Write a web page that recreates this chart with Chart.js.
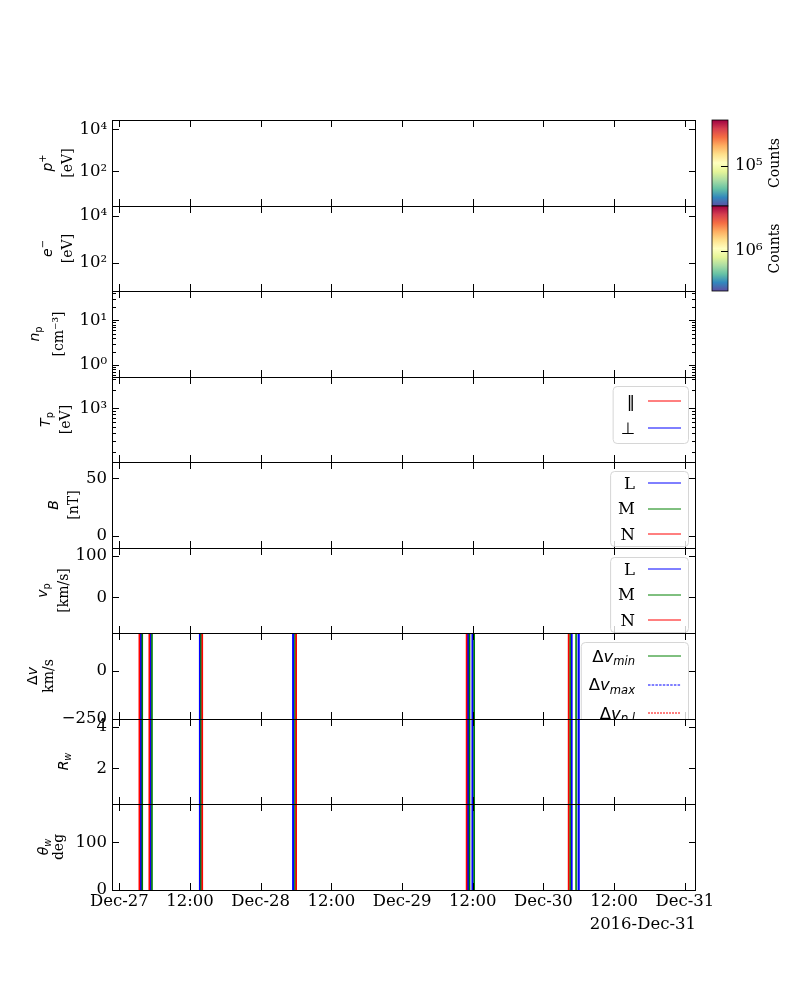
<!DOCTYPE html>
<html>
<head>
<meta charset="utf-8">
<title>Dec 2016 overview</title>
<script src="https://cdn.jsdelivr.net/npm/chart.js@4.4.0/dist/chart.umd.min.js"></script>
<style>
  html, body { margin: 0; padding: 0; background: #fff; }
  #page { position: relative; width: 800px; height: 1000px; overflow: hidden; }
  #page canvas { position: absolute; left: 0; }
</style>
</head>
<body>
<div id="page"></div>
<script>
// time axis, hours since 2016-12-27 00:00
const timeRange = [-1.24, 97.9];
const timeTicks = [0, 12, 24, 36, 48, 60, 72, 84, 96];
const timeTickLabels = ['Dec-27', '12:00', 'Dec-28', '12:00', 'Dec-29', '12:00', 'Dec-30', '12:00', 'Dec-31'];
const timeAxisTitle = '2016-Dec-31';

// crossing markers in the three lower panels (hours)
const redCrossings = [3.40, 5.09, 14.09, 30.03, 58.95, 76.27];
const greenCrossings = [3.90, 5.55, 13.87, 29.83, 59.46, 60.25, 76.52, 77.54];
const blueCrossings = [3.68, 5.31, 13.70, 29.52, 59.20, 59.97, 76.77, 77.98];

// y limits per panel
const protonRange = [2.2, 27700];
const electronRange = [6.3, 26600];
const densityRange = [0.54, 45];
const tempRange = [136, 3200];
const bRange = [-10.4, 64.1];
const vpRange = [-86.4, 119.4];
const dvRange = [-252, 200];
const rwRange = [0.28, 4.37];
const thetaRange = [0, 180.3];

// y ticks per panel
const protonTicks = [1e2, 1e4];
const electronTicks = [1e2, 1e4];
const densityTicks = [0.6, 0.7, 0.8, 0.9, 1, 2, 3, 4, 5, 6, 7, 8, 9, 10, 20, 30, 40];
const tempTicks = [200, 300, 400, 500, 600, 700, 800, 900, 1000, 2000, 3000];
const bTicks = [0, 50];
const vpTicks = [0, 100];
const dvTicks = [-250, 0];
const rwTicks = [2, 4];
const thetaTicks = [0, 100];

// colorbars of the two spectrograms
const protonCountsRange = [4.0e4, 2.8e5];
const protonCountsTicks = [1e5];
const electronCountsRange = [4.0e5, 2.8e6];
const electronCountsTicks = [1e6];

const spectral = ['#5e4fa2', '#3288bd', '#66c2a5', '#abdda4', '#e6f598', '#ffffbf',
  '#fee08b', '#fdae61', '#f46d43', '#d53e4f', '#9e0142'];

Chart.defaults.font.family = 'DejaVu Serif';
const tickFont = { family: 'DejaVu Serif', size: 16.5 };

function sup(str) {
  const map = { '0': '⁰', '1': '¹', '2': '²', '3': '³', '4': '⁴', '5': '⁵', '6': '⁶', '7': '⁷', '8': '⁸', '9': '⁹', '-': '⁻' };
  return String(str).split('').map(c => map[c] || c).join('');
}

function logLabel(value) {
  const e = Math.log10(value);
  if (Math.abs(e - Math.round(e)) < 1e-9) {
    return '10' + sup(Math.round(e));
  }
  return '';
}

function linearLabel(value) {
  return value < 0 ? '−' + Math.abs(value) : String(value);
}

// rich text: parts are [text, font, shift] with shift 1 = superscript, -1 = subscript
function fontFor(part, size) {
  const s = part[2] ? size * 0.7 : size;
  const style = part[1] === 'sansI' ? 'italic ' : '';
  const fam = part[1] === 'serif' ? '"DejaVu Serif"' : '"DejaVu Sans"';
  return style + s + 'px ' + fam;
}

function richWidth(ctx, parts, size) {
  let w = 0;
  for (const p of parts) {
    ctx.font = fontFor(p, size);
    w += ctx.measureText(p[0]).width;
  }
  return w;
}

function drawRich(ctx, parts, x, y, size, align) {
  const w = richWidth(ctx, parts, size);
  let cx = align === 'center' ? x - w / 2 : (align === 'right' ? x - w : x);
  const base = y + size * 0.36;
  ctx.textAlign = 'left';
  ctx.textBaseline = 'alphabetic';
  for (const p of parts) {
    ctx.font = fontFor(p, size);
    let dy = 0;
    if (p[2] === 1) dy = -size * 0.42;
    if (p[2] === -1) dy = size * 0.2;
    ctx.fillText(p[0], cx, base + dy);
    cx += ctx.measureText(p[0]).width;
  }
}

function crossingData(hours, range) {
  const pts = [];
  hours.forEach(h => {
    pts.push({ x: h, y: range[0] }, { x: h, y: range[1] }, { x: h, y: null });
  });
  return pts;
}

function crossingSets(range) {
  return [
    { data: crossingData(redCrossings, range), borderColor: '#ff0000', borderWidth: 1.6 },
    { data: crossingData(greenCrossings, range), borderColor: '#008000', borderWidth: 1.6 },
    { data: crossingData(blueCrossings, range), borderColor: '#0000ff', borderWidth: 2.2 },
  ];
}

function legendSet(parts, color, dash) {
  return { label: parts.map(p => p[0]).join(''), legendParts: parts, data: [],
    borderColor: color, borderWidth: 1, borderDash: dash || [] };
}

const panels = [
  { top: 120, bottom: 206, type: 'logarithmic', range: protonRange, ticks: protonTicks,
    ylabel: [[['p', 'sansI'], ['+', 'sans', 1]], [['[eV]', 'serif']]], labelX: [47, 67],
    colorbar: { range: protonCountsRange, ticks: protonCountsTicks }, datasets: [] },
  { top: 206, bottom: 291, type: 'logarithmic', range: electronRange, ticks: electronTicks,
    ylabel: [[['e', 'sansI'], ['−', 'sans', 1]], [['[eV]', 'serif']]], labelX: [47, 67],
    colorbar: { range: electronCountsRange, ticks: electronCountsTicks }, datasets: [] },
  { top: 291, bottom: 377, type: 'logarithmic', range: densityRange, ticks: densityTicks,
    ylabel: [[['n', 'sansI'], ['p', 'sans', -1]], [['[cm⁻³]', 'serif']]], labelX: [34, 58],
    datasets: [] },
  { top: 377, bottom: 462, type: 'logarithmic', range: tempRange, ticks: tempTicks,
    ylabel: [[['T', 'sansI'], ['p', 'sans', -1]], [['[eV]', 'serif']]], labelX: [45, 65],
    legend: { rowGap: 27, pad: 15 },
    datasets: [legendSet([['‖', 'sans']], '#ff0000'), legendSet([['⊥', 'sans']], '#0000ff')] },
  { top: 462, bottom: 548, type: 'linear', range: bRange, ticks: bTicks,
    ylabel: [[['B', 'sansI']], [['[nT]', 'serif']]], labelX: [53, 73],
    legend: { rowGap: 25.5, pad: 12 },
    datasets: [legendSet([['L', 'serif']], '#0000ff'), legendSet([['M', 'serif']], '#008000'),
      legendSet([['N', 'serif']], '#ff0000')] },
  { top: 548, bottom: 633, type: 'linear', range: vpRange, ticks: vpTicks,
    ylabel: [[['v', 'sansI'], ['p', 'sans', -1]], [['[km/s]', 'serif']]], labelX: [42, 63],
    legend: { rowGap: 25.5, pad: 12 },
    datasets: [legendSet([['L', 'serif']], '#0000ff'), legendSet([['M', 'serif']], '#008000'),
      legendSet([['N', 'serif']], '#ff0000')] },
  { top: 633, bottom: 719, type: 'linear', range: dvRange, ticks: dvTicks,
    ylabel: [[['Δ', 'sans'], ['v', 'sansI']], [['km/s', 'serif']]], labelX: [32, 48],
    legend: { rowGap: 28.5, pad: 14 },
    datasets: crossingSets(dvRange).concat([
      legendSet([['Δ', 'sans'], ['v', 'sansI'], ['min', 'sansI', -1]], '#008000'),
      legendSet([['Δ', 'sans'], ['v', 'sansI'], ['max', 'sansI', -1]], '#0000ff', [2.5, 1.2]),
      legendSet([['Δ', 'sans'], ['v', 'sansI'], ['p,l', 'sansI', -1]], '#ff0000', [2, 1])]) },
  { top: 719, bottom: 804, type: 'linear', range: rwRange, ticks: rwTicks,
    ylabel: [[['R', 'sansI'], ['w', 'sansI', -1]]], labelX: [63],
    datasets: crossingSets(rwRange) },
  { top: 804, bottom: 890, type: 'linear', range: thetaRange, ticks: thetaTicks,
    ylabel: [[['θ', 'sansI'], ['w', 'sansI', -1]], [['deg', 'serif']]], labelX: [43, 58],
    datasets: crossingSets(thetaRange) },
];

function drawLegend(ctx, area, items, spec) {
  const size = 16.5;
  const textW = Math.max(...items.map(it => richWidth(ctx, it.legendParts, size)));
  const lineLen = 33, padL = 8, gap = 13, padR = 7;
  const boxW = padL + textW + gap + lineLen + padR;
  const boxH = spec.pad * 2 + spec.rowGap * (items.length - 1);
  const right = area.right - 8;
  const top = area.top + 9;
  const left = right - boxW;
  ctx.save();
  ctx.beginPath();
  ctx.rect(area.left, area.top, area.right - area.left, area.bottom - area.top);
  ctx.clip();
  ctx.beginPath();
  ctx.roundRect(left + 0.5, top + 0.5, boxW, boxH, 4);
  ctx.fillStyle = 'rgba(255,255,255,0.8)';
  ctx.fill();
  ctx.strokeStyle = '#d6d6d6';
  ctx.lineWidth = 1;
  ctx.stroke();
  items.forEach((it, i) => {
    const y = top + spec.pad + i * spec.rowGap;
    ctx.fillStyle = '#000';
    drawRich(ctx, it.legendParts, left + padL + textW, y, size, 'right');
    ctx.beginPath();
    ctx.setLineDash(it.borderDash || []);
    ctx.strokeStyle = it.borderColor;
    ctx.lineWidth = 1;
    ctx.moveTo(right - padR - lineLen, Math.round(y));
    ctx.lineTo(right - padR, Math.round(y));
    ctx.stroke();
    ctx.setLineDash([]);
  });
  ctx.restore();
}

function drawColorbar(ctx, area, cbar) {
  const x0 = 712, x1 = 728;
  const top = area.top, bottom = area.bottom;
  const grad = ctx.createLinearGradient(0, bottom, 0, top);
  spectral.forEach((c, i) => grad.addColorStop(i / (spectral.length - 1), c));
  ctx.fillStyle = grad;
  ctx.fillRect(x0, top, x1 - x0, bottom - top);
  ctx.strokeStyle = '#000';
  ctx.lineWidth = 0.8;
  ctx.strokeRect(x0, top, x1 - x0, bottom - top);
  const lo = Math.log10(cbar.range[0]), hi = Math.log10(cbar.range[1]);
  cbar.ticks.forEach(v => {
    const y = bottom - (Math.log10(v) - lo) / (hi - lo) * (bottom - top);
    ctx.beginPath();
    ctx.lineWidth = 1;
    ctx.moveTo(x1 - 7, Math.round(y) + 0.5);
    ctx.lineTo(x1, Math.round(y) + 0.5);
    ctx.stroke();
    ctx.fillStyle = '#000';
    ctx.font = '16.5px "DejaVu Serif"';
    ctx.textAlign = 'left';
    ctx.textBaseline = 'middle';
    ctx.fillText(logLabel(v), x1 + 7, y);
  });
  ctx.save();
  ctx.translate(775, (top + bottom) / 2);
  ctx.rotate(-Math.PI / 2);
  ctx.font = '14px "DejaVu Serif"';
  ctx.textAlign = 'center';
  ctx.textBaseline = 'middle';
  ctx.fillText('Counts', 0, 0);
  ctx.restore();
}

function panelDecor(p) {
  return {
    id: 'panelDecor',
    afterDraw(chart) {
      const ctx = chart.ctx;
      const area = chart.chartArea;
      const xs = chart.scales.x, ys = chart.scales.y;
      ctx.save();
      ctx.strokeStyle = '#000';
      ctx.lineWidth = 1;
      ctx.strokeRect(Math.round(area.left) + 0.5, Math.round(area.top) + 0.5,
        Math.round(area.right - area.left) - 1, Math.round(area.bottom - area.top));
      // inward ticks on all four sides
      ctx.beginPath();
      timeTicks.forEach(t => {
        const x = Math.round(xs.getPixelForValue(t)) + 0.5;
        ctx.moveTo(x, area.top); ctx.lineTo(x, area.top + 7);
        ctx.moveTo(x, area.bottom); ctx.lineTo(x, area.bottom - 7);
      });
      p.ticks.forEach(v => {
        const y = Math.round(ys.getPixelForValue(v)) + 0.5;
        const major = p.type !== 'logarithmic' || logLabel(v) !== '';
        const len = major ? 7 : 4;
        ctx.moveTo(area.left, y); ctx.lineTo(area.left + len, y);
        ctx.moveTo(area.right, y); ctx.lineTo(area.right - len, y);
      });
      ctx.stroke();
      // axis label
      ctx.fillStyle = '#000';
      const mid = (area.top + area.bottom) / 2;
      p.ylabel.forEach((line, i) => {
        ctx.save();
        ctx.translate(p.labelX[i], mid);
        ctx.rotate(-Math.PI / 2);
        drawRich(ctx, line, 0, 0, 14, 'center');
        ctx.restore();
      });
      const items = chart.data.datasets.filter(d => d.legendParts);
      if (p.legend && items.length) drawLegend(ctx, area, items, p.legend);
      if (p.colorbar) drawColorbar(ctx, area, p.colorbar);
      ctx.restore();
    }
  };
}

function buildPanel(p, index, isBottom) {
  const padTop = 30;
  const xAxisHeight = isBottom ? 45 : 0;
  const padBottom = isBottom ? 15 : 30;
  const canvas = document.createElement('canvas');
  canvas.width = 800;
  canvas.height = padTop + (p.bottom - p.top) + xAxisHeight + padBottom;
  canvas.style.top = (p.top - padTop) + 'px';
  canvas.style.zIndex = index;
  document.getElementById('page').appendChild(canvas);

  new Chart(canvas.getContext('2d'), {
    type: 'line',
    data: { datasets: p.datasets },
    options: {
      responsive: false,
      animation: false,
      events: [],
      layout: { padding: { top: padTop, bottom: padBottom, left: 0, right: 104 } },
      elements: { point: { radius: 0 }, line: { tension: 0 } },
      plugins: { legend: { display: false }, tooltip: { enabled: false } },
      scales: {
        x: {
          type: 'linear', min: timeRange[0], max: timeRange[1], display: isBottom,
          grid: { display: false, drawTicks: false }, border: { display: false },
          ticks: { color: '#000', font: tickFont, padding: 2, autoSkip: false, maxRotation: 0,
            callback: (v) => timeTickLabels[timeTicks.indexOf(v)] || '' },
          afterBuildTicks: (s) => { s.ticks = timeTicks.map(v => ({ value: v })); },
          afterFit: (s) => { s.height = xAxisHeight; },
          title: { display: isBottom, text: timeAxisTitle, align: 'end', color: '#000',
            font: tickFont, padding: { top: 0, bottom: 0 } },
        },
        y: {
          type: p.type, min: p.range[0], max: p.range[1],
          grid: { display: false, drawTicks: false }, border: { display: false },
          ticks: { color: '#000', font: tickFont, padding: 5, autoSkip: false,
            callback: p.type === 'logarithmic' ? logLabel : linearLabel },
          afterBuildTicks: (s) => { s.ticks = p.ticks.map(v => ({ value: v })); },
          afterFit: (s) => { s.width = 112; },
        },
      },
    },
    plugins: [panelDecor(p)],
  });
}

window.onload = function() {
  panels.forEach((p, i) => buildPanel(p, i + 1, i === panels.length - 1));
};
</script>
</body>
</html>
